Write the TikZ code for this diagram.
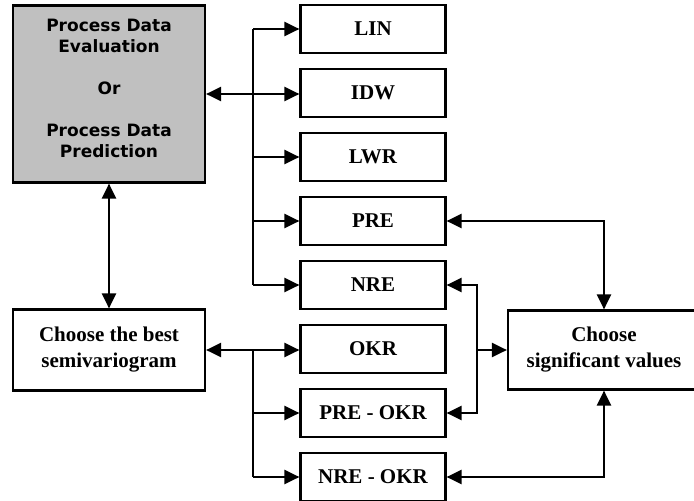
\documentclass[tikz,border=0pt]{standalone}
\usepackage{fontspec}
\setmainfont{Liberation Serif}
\newfontfamily\versans{DejaVu Sans}
\usetikzlibrary{arrows.meta, positioning}
\definecolor{procgray}{RGB}{192,192,192}

\begin{document}
\begin{tikzpicture}[
    x=1pt, y=-1pt,
    line width=2.2pt,
    node distance=13.8pt,
    >={Triangle[length=15pt,width=14pt]},
    method/.style={draw, minimum width=145pt, minimum height=48pt, inner sep=0pt,
        font=\fontsize{21}{26}\selectfont\bfseries},
    task/.style={draw, minimum width=192pt, align=center, inner sep=0pt,
        font=\fontsize{21}{26}\selectfont\bfseries}
]
    \useasboundingbox (0,0) rectangle (694,501);

    % Left column
    \node[task, fill=procgray, minimum height=177pt,
        font=\versans\fontsize{17}{21}\selectfont\bfseries] (proc) at (109,94)
        {Process Data\\Evaluation\\[21pt]Or\\[21pt]Process Data\\Prediction\\[-10pt]\mbox{}};
    \node[task, minimum height=81pt] (best) at (109,350) {Choose the best\\semivariogram};

    % Methods, stacked
    \node[method] (lin) at (373,29) {LIN};
    \node[method] (idw) [below=of lin] {IDW};
    \node[method] (lwr) [below=of idw] {LWR};
    \node[method] (pre) [below=of lwr] {PRE};
    \node[method] (nre) [below=of pre] {NRE};
    \node[method] (okr) [below=of nre] {OKR};
    \node[method] (preokr) [below=of okr] {PRE - OKR};
    \node[method] (nreokr) [below=of preokr] {NRE - OKR};

    % Right box, its right side runs off the page
    \node[task, minimum height=79pt] (sig) at (604,350) {Choose\\significant values};

    % Bus lines and the bracket
    \coordinate (bus) at (253,0);
    \coordinate (brk) at (477,350);

    \draw[<->] (proc) -- (proc -| idw.west);
    \draw (bus |- lin) -- (bus |- nre);
    \foreach \m in {lin, lwr, pre, nre}
        \draw[->] (bus |- \m) -- (\m);

    \draw[<->] (proc) -- (best);

    \draw[<->] (best) -- (best -| okr.west);
    \draw (bus |- okr) -- (bus |- nreokr);
    \foreach \m in {preokr, nreokr}
        \draw[->] (bus |- \m) -- (\m);

    \draw[<->] (nre) -| (brk) |- (preokr);
    \draw[->] (brk) -- (sig);

    \draw[<->] (pre) -| (sig);
    \draw[<->] (nreokr) -| (sig);
\end{tikzpicture}
\end{document}
